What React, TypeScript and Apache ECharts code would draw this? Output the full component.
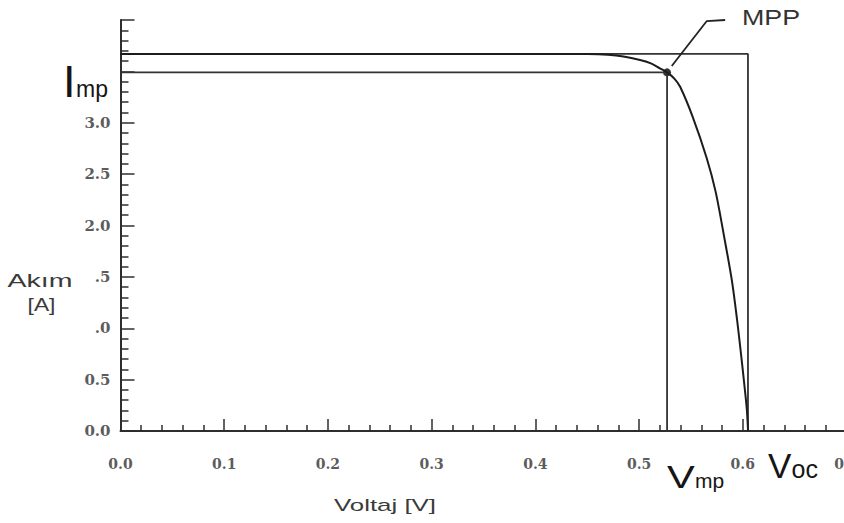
import React, { useEffect, useRef } from "react";
import * as echarts from "echarts";

// I-V curve of the solar cell (voltage in V, current in A)
const voltage = [0, 0.1, 0.2, 0.3, 0.4, 0.45, 0.47, 0.485, 0.501, 0.512, 0.52, 0.527, 0.534, 0.5396, 0.5516, 0.5651, 0.5738, 0.5824, 0.5894, 0.5944, 0.5985, 0.6015, 0.6039, 0.6051];
const current = [3.67, 3.67, 3.67, 3.67, 3.67, 3.669, 3.662, 3.645, 3.61, 3.575, 3.53, 3.49, 3.43, 3.35, 3.06, 2.66, 2.33, 1.87, 1.47, 1.09, 0.73, 0.45, 0.21, 0];

const isc = 3.67;
const voc = 0.605;
const imp = 3.49;
const vmp = 0.527;

// leader line of the MPP annotation (data coordinates)
const leaderV = [0.5315, 0.5653, 0.583];
const leaderI = [3.553, 3.99, 4.0];

const xTickLabels = ["0.0", "0.1", "0.2", "0.3", "0.4", "0.5", "0.6", "0.7"];
const yTickLabels = ["0.0", "0.5", ".0", ".5", "2.0", "2.5", "3.0", "", ""];

export default function App() {
  const ref = useRef<HTMLDivElement>(null);
  useEffect(() => {
    const chart = echarts.init(ref.current!, null, { renderer: "svg" });
    const axisColor = "#2e2e2e";
    const labelStyle = {
      fontFamily: "DejaVu Serif",
      fontWeight: "bold" as const,
      fontSize: 14,
      color: "#5c5c5c",
    };
    const sans = "Liberation Sans";
    const dark = "#151515";
    chart.setOption({
      animation: false,
      backgroundColor: "#ffffff",
      grid: { left: 120.5, top: 20, width: 726, height: 411, containLabel: false, outerBoundsMode: "none" },
      xAxis: {
        type: "value",
        min: 0,
        max: 0.7,
        interval: 0.1,
        axisLine: { show: true, onZero: false, lineStyle: { color: axisColor, width: 2 } },
        axisTick: { show: true, inside: true, length: 12, lineStyle: { color: axisColor, width: 1.5 } },
        minorTick: { show: true, splitNumber: 5, length: 6, lineStyle: { color: axisColor, width: 1.5 } },
        splitLine: { show: false },
        axisLabel: {
          ...labelStyle,
          margin: 26,
          formatter: (v: number) => xTickLabels[Math.round(v * 10)] ?? "",
        },
      },
      yAxis: {
        type: "value",
        min: 0,
        max: 4,
        interval: 0.5,
        axisLine: { show: true, onZero: false, lineStyle: { color: axisColor, width: 2 } },
        axisTick: { show: true, inside: true, length: 14, lineStyle: { color: axisColor, width: 1.5 } },
        minorTick: { show: true, splitNumber: 5, length: 8, lineStyle: { color: axisColor, width: 1.5 } },
        splitLine: { show: false },
        axisLabel: {
          ...labelStyle,
          fontSize: 15,
          margin: 10,
          formatter: (v: number) => yTickLabels[Math.round(v * 2)] ?? "",
        },
      },
      series: [
        {
          name: "Isc-Voc",
          type: "line",
          data: [[0, isc], [voc, isc], [voc, 0]],
          symbol: "none",
          lineStyle: { color: "#333333", width: 1.8 },
          silent: true,
        },
        {
          name: "Imp-Vmp",
          type: "line",
          data: [[0, imp], [vmp, imp], [vmp, 0]],
          symbol: "none",
          lineStyle: { color: "#333333", width: 1.8 },
          silent: true,
        },
        {
          name: "I-V",
          type: "line",
          data: voltage.map((v, i) => [v, current[i]]),
          symbol: "none",
          smooth: 0.3,
          lineStyle: { color: "#1c1c1c", width: 2 },
        },
        {
          name: "leader",
          type: "line",
          data: leaderV.map((v, i) => [v, leaderI[i]]),
          symbol: "none",
          clip: false,
          lineStyle: { color: "#222222", width: 1.8 },
          silent: true,
        },
        {
          name: "MPP",
          type: "scatter",
          data: [[vmp, imp]],
          symbol: "circle",
          symbolSize: 8,
          itemStyle: { color: "#000000" },
        },
      ],
      graphic: [
        { type: "text", x: 40, y: 280.5, scaleX: 1.5, style: { text: "Akım", font: `19px "${sans}"`, fill: "#3a3a3a", textAlign: "center", textVerticalAlign: "middle" } },
        { type: "text", x: 41.5, y: 304, scaleX: 1.2, style: { text: "[A]", font: `19px "${sans}"`, fill: "#3a3a3a", textAlign: "center", textVerticalAlign: "middle" } },
        { type: "text", x: 385, y: 505, scaleX: 1.52, style: { text: "Voltaj [V]", font: `17px "${sans}"`, fill: "#3a3a3a", textAlign: "center", textVerticalAlign: "middle" } },
        { type: "text", x: 742, y: 17.3, scaleX: 1.22, style: { text: "MPP", font: `22px "${sans}"`, fill: "#333333", textAlign: "left", textVerticalAlign: "middle" } },
        { type: "text", x: 63, y: 81.3, style: { text: "I", font: `45px "${sans}"`, fill: dark, textAlign: "left", textVerticalAlign: "middle" } },
        { type: "text", x: 76, y: 89, style: { text: "mp", font: `23px "${sans}"`, fill: dark, textAlign: "left", textVerticalAlign: "middle" } },
        { type: "text", x: 667, y: 476.8, scaleX: 1.3, style: { text: "V", font: `32px "${sans}"`, fill: dark, textAlign: "left", textVerticalAlign: "middle" } },
        { type: "text", x: 695, y: 480.6, style: { text: "mp", font: `21px "${sans}"`, fill: dark, textAlign: "left", textVerticalAlign: "middle" } },
        { type: "text", x: 768, y: 465.8, style: { text: "V", font: `35px "${sans}"`, fill: dark, textAlign: "left", textVerticalAlign: "middle" } },
        { type: "text", x: 791.5, y: 469, style: { text: "oc", font: `25px "${sans}"`, fill: dark, textAlign: "left", textVerticalAlign: "middle" } },
      ],
    });
    return () => chart.dispose();
  }, []);
  return <div ref={ref} style={{ position: "absolute", left: 0, top: 0, width: 844, height: 523 }} />;
}
